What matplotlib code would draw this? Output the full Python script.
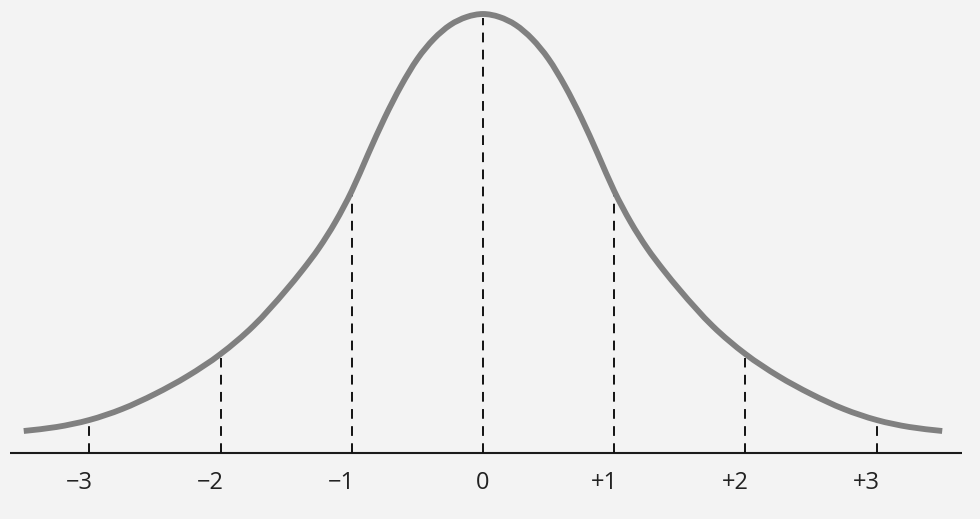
import numpy as np
import matplotlib.pyplot as plt
from matplotlib.path import Path
from matplotlib.patches import PathPatch
from matplotlib.transforms import offset_copy

# bell curve: position in SD units, height above the axis
z = [-3.5, -3.25, -3.0, -2.75, -2.5, -2.25, -2.0, -1.75, -1.5, -1.375,
     -1.25, -1.125, -1.0, -0.875, -0.75, -0.625, -0.5, -0.375, -0.25,
     -0.125, 0.0, 0.125, 0.25, 0.375, 0.5, 0.625, 0.75, 0.875, 1.0,
     1.125, 1.25, 1.375, 1.5, 1.75, 2.0, 2.25, 2.5, 2.75, 3.0, 3.25, 3.5]
height = [22, 26, 33, 44, 59, 77, 99, 127, 163, 183,
          205, 231, 262, 299, 335, 367, 394, 414, 428,
          436, 439, 436, 428, 414, 394, 367, 335, 299, 262,
          231, 205, 183, 163, 127, 99, 77, 59, 44, 33, 26, 22]

ticks = [-3, -2, -1, 0, 1, 2, 3]
tick_labels = ["\u22123", "\u22122", "\u22121", "0", "+1", "+2", "+3"]

fig = plt.figure(figsize=(9.8, 5.19), dpi=100, facecolor="#f3f3f3")
ax = fig.add_axes([0, 0, 1, 1])
ax.set_facecolor("#f3f3f3")
ax.set_xlim(-3.681, 3.788)
ax.set_ylim(-66, 453)
ax.axis("off")

# baseline
ax.plot([-3.605, 3.651], [0, 0], color="#1a1a1a", lw=1.5, solid_capstyle="butt")

# dashed SD lines up to just under the curve
lookup = dict(zip(z, height))
for t in ticks:
    top = lookup[float(t)] - 4
    ax.plot([t, t], [0, top], color="#111111", lw=1.4,
            linestyle=(0, (5.0, 3.8)), dash_capstyle="butt")

# smooth bezier path through the read points (hermite tangents)
x = np.array(z, dtype=float)
y = np.array(height, dtype=float)
m = np.gradient(y, x)
verts = [(x[0], y[0])]
codes = [Path.MOVETO]
for i in range(len(x) - 1):
    d = (x[i + 1] - x[i]) / 3
    verts += [(x[i] + d, y[i] + m[i] * d),
              (x[i + 1] - d, y[i + 1] - m[i + 1] * d),
              (x[i + 1], y[i + 1])]
    codes += [Path.CURVE4] * 3
ax.add_patch(PathPatch(Path(verts, codes), facecolor="none",
                       edgecolor="#808080", lw=4.2, capstyle="butt",
                       joinstyle="round", zorder=3))

for t, lab in zip(ticks, tick_labels):
    dx = 0 if t == 0 else -10
    tr = offset_copy(ax.transData, fig=fig, x=dx, y=0, units="dots")
    ax.text(t, -30, lab, transform=tr, ha="center", va="center",
            fontsize=17, family="Open Sans", color="#222222")

fig.savefig("out.png", dpi=100, facecolor=fig.get_facecolor())
